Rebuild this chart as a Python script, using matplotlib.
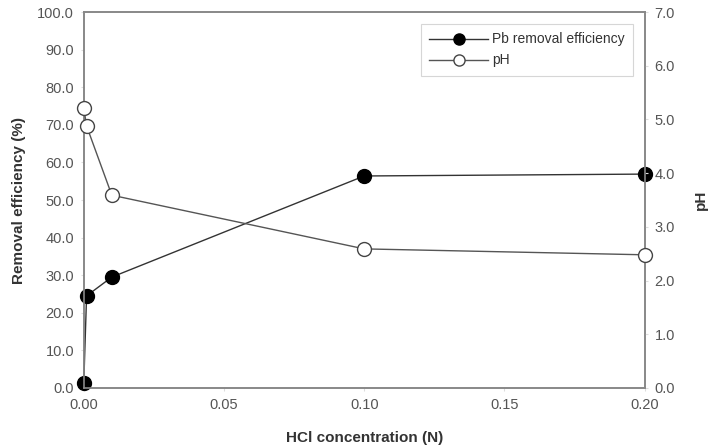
import matplotlib
matplotlib.use('Agg')
import matplotlib.pyplot as plt
from matplotlib.ticker import FormatStrFormatter

plt.rcParams['font.family'] = ['Liberation Sans', 'DejaVu Sans']

# data
hcl = [0.0, 0.001, 0.01, 0.1, 0.2]
pb_removal = [1.3, 24.5, 29.5, 56.4, 56.9]
ph = [5.21, 4.88, 3.59, 2.59, 2.48]

grey = '#555555'
fig = plt.figure(figsize=(7.1, 4.48), dpi=100)
ax = fig.add_axes([0.118, 0.134, 0.79, 0.839])
ax2 = ax.twinx()

l1, = ax.plot(hcl, pb_removal, color='#333333', lw=1, marker='o', ms=10,
              mfc='black', mec='black', label='Pb removal efficiency',
              zorder=3, clip_on=False)
l2, = ax2.plot(hcl, ph, color='#555555', lw=1, marker='o', ms=10,
               mfc='white', mec='#444444', label='pH', zorder=3, clip_on=False)

ax.set_xlim(0, 0.2)
ax.set_ylim(0, 100)
ax2.set_ylim(0, 7)
ax.set_xticks([0, 0.05, 0.1, 0.15, 0.2])
ax.set_yticks(range(0, 101, 10))
ax2.set_yticks(range(0, 8))
ax.xaxis.set_major_formatter(FormatStrFormatter('%.2f'))
ax.yaxis.set_major_formatter(FormatStrFormatter('%.1f'))
ax2.yaxis.set_major_formatter(FormatStrFormatter('%.1f'))

for a in (ax, ax2):
    for s in a.spines.values():
        s.set_color('#888888')
        s.set_linewidth(1.2)
    a.tick_params(colors='#dddddd', labelcolor=grey, labelsize=10.5, length=2, pad=5)

ax.set_xlabel('HCl concentration (N)', fontweight='bold', fontsize=11, color='#333333', labelpad=14)
ax.set_ylabel('Removal efficiency (%)', fontweight='bold', fontsize=11, color='#333333', labelpad=8)
ax2.set_ylabel('pH', fontweight='bold', fontsize=11, color='#333333', labelpad=14)

leg = ax.legend(handles=[l1, l2], loc='upper right', bbox_to_anchor=(0.979, 0.968),
                borderaxespad=0, fontsize=10, frameon=True, fancybox=False,
                handlelength=4.2, markerscale=0.8, borderpad=0.6,
                labelspacing=0.5, handletextpad=0.3)
leg.get_frame().set_edgecolor('#cccccc')
leg.get_frame().set_linewidth(0.8)
for t in leg.get_texts():
    t.set_color('#333333')

fig.savefig('out.png', dpi=100)
